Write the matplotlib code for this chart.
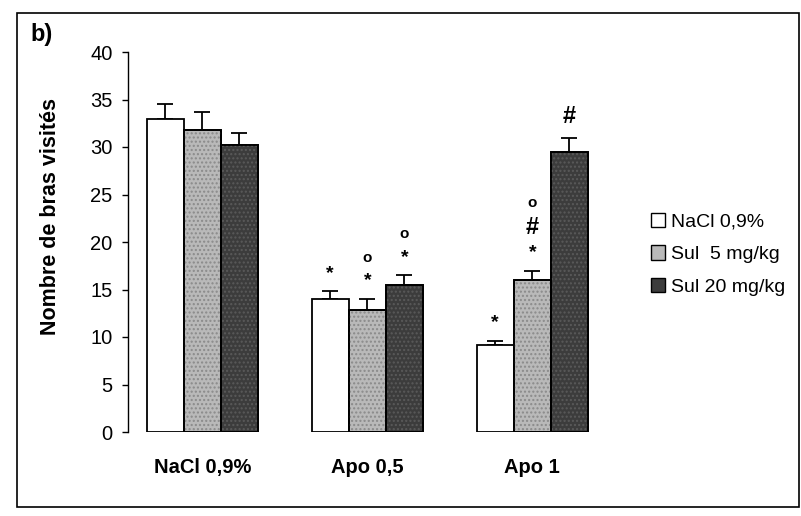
import matplotlib
matplotlib.use("Agg")
import matplotlib.pyplot as plt
from matplotlib.patches import Rectangle, Patch
import numpy as np

plt.rcParams['font.family'] = ['Liberation Sans', 'DejaVu Sans']

categories = ["NaCl 0,9%", "Apo 0,5", "Apo 1"]
series = ["NaCl 0,9%", "Sul  5 mg/kg", "Sul 20 mg/kg"]
nacl = [33.0, 14.0, 9.2]
sul5 = [31.8, 12.8, 16.0]
sul20 = [30.2, 15.5, 29.5]
nacl_err = [1.5, 0.8, 0.4]
sul5_err = [1.9, 1.2, 1.0]
sul20_err = [1.3, 1.0, 1.5]
# significance marks above each bar (bottom to top)
marks = {
    (1, 0): ["*"], (1, 1): ["*", "o"], (1, 2): ["*", "o"],
    (2, 0): ["*"], (2, 1): ["*", "#", "o"], (2, 2): ["#"],
}

fig = plt.figure(figsize=(8.01, 5.16), dpi=100)
ax = fig.add_axes([128/801, 1-432/516, 472/801, 380/516])

x = np.arange(len(categories))
w = 0.225
vals = [nacl, sul5, sul20]
errs = [nacl_err, sul5_err, sul20_err]
faces = ["white", "#b9b9b9", "#3c3c3c"]
hatch_cols = ["white", "#8a8a8a", "#5a5a5a"]
hatches = [None, "....", "...."]
for i, (v, e) in enumerate(zip(vals, errs)):
    pos = x + (i - 1) * w
    ax.bar(pos, v, width=w, color=faces[i], edgecolor="black", linewidth=1.3, zorder=2)
    if hatches[i]:
        ax.bar(pos, v, width=w, color="none", edgecolor=hatch_cols[i], hatch=hatches[i], linewidth=0, zorder=2.5)
        ax.bar(pos, v, width=w, color="none", edgecolor="black", linewidth=1.3, zorder=2.6)
    ax.errorbar(pos, v, yerr=[np.zeros(len(v)), e], fmt="none", ecolor="black",
                elinewidth=1.3, capsize=6, capthick=1.3, zorder=1.5)
    for g in range(len(categories)):
        ms = marks.get((g, i), [])
        y = v[g] + e[g] + 1.0
        for m in ms:
            if m == "*":
                ax.text(pos[g], y, "*", ha="center", va="bottom", fontsize=14, fontweight="bold")
                y += 2.3
            elif m == "o":
                ax.text(pos[g], y + 0.3, "o", ha="center", va="bottom", fontsize=11, fontweight="bold")
                y += 2.0
            elif m == "#":
                ax.text(pos[g], y, "#", ha="center", va="bottom", fontsize=17, fontweight="bold")
                y += 2.8

ax.set_xlim(-0.45, 2.41)
ax.set_ylim(0, 40)
ax.set_yticks(range(0, 41, 5))
ax.tick_params(axis="y", direction="out", length=4, width=1, labelsize=14.5, pad=7)
ax.set_xticks(x)
ax.set_xticklabels(categories, fontsize=14.5, fontweight="bold")
ax.tick_params(axis="x", length=0, pad=19)
for s in ["top", "right", "bottom"]:
    ax.spines[s].set_visible(False)
ax.spines["left"].set_linewidth(1)
ax.set_ylabel("Nombre de bras visités", fontsize=15.5, fontweight="bold")
ax.yaxis.set_label_coords(-0.142, 0.568)

handles = [Patch(facecolor=faces[i], edgecolor="black") for i in range(3)]
fig.legend(handles, series, loc="upper left", bbox_to_anchor=(643/801, 1-205/516),
           frameon=False, fontsize=14, handlelength=0.75, handleheight=0.75,
           handletextpad=0.3, labelspacing=0.75, borderaxespad=0)

fig.text(30/801, 1-34/516, "b)", fontsize=17, fontweight="bold", va="center", ha="left")
fig.add_artist(Rectangle((17/801, 1-507/516), 782/801, 494/516, transform=fig.transFigure,
                         fill=False, edgecolor="black", linewidth=1.2))

fig.savefig("out.png", dpi=100)
